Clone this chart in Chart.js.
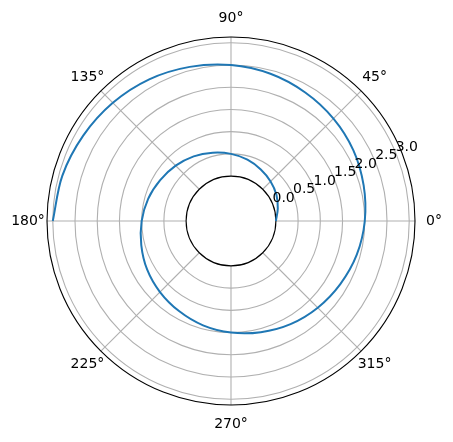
<!DOCTYPE html>
<html>
<head>
<meta charset="utf-8">
<script src="https://cdn.jsdelivr.net/npm/chart.js@4/dist/chart.umd.min.js"></script>
<style>
  html, body { margin: 0; padding: 0; background: #fff; }
  #wrap { width: 453px; height: 442px; position: relative; }
</style>
</head>
<body>
<div id="wrap"><canvas id="polarChart"></canvas></div>
<script>
// Spiral samples (angle in degrees, radius)
const thetaDeg = [0, 15, 30, 45, 60, 75, 90, 105, 120, 135, 150, 165, 180,
    195, 210, 225, 240, 255, 270, 285, 300, 315, 330, 345, 360,
    375, 390, 405, 420, 435, 450, 465, 480, 495, 510, 525, 540];
const radius = [0, 0.08, 0.17, 0.25, 0.33, 0.42, 0.5, 0.58, 0.67, 0.75, 0.83, 0.92, 1.0,
    1.08, 1.17, 1.25, 1.33, 1.42, 1.5, 1.58, 1.67, 1.75, 1.83, 1.92, 2.0,
    2.08, 2.17, 2.25, 2.33, 2.42, 2.5, 2.58, 2.67, 2.75, 2.83, 2.92, 3.0];

// Axis ticks
const radialTicks = [0.5, 1.0, 1.5, 2.0, 2.5, 3.0];
const radialTickLabels = ["0.0", "0.5", "1.0", "1.5", "2.0", "2.5", "3.0"];
const radialTickValues = [0.0, 0.5, 1.0, 1.5, 2.0, 2.5, 3.0];
const angleTicks = [0, 45, 90, 135, 180, 225, 270, 315];
const angleTickLabels = ["0°", "45°", "90°", "135°", "180°", "225°", "270°", "315°"];

const R_ORIGIN = 1.01;   // hole in the middle (r = 0 sits here)
const R_MAX = 3.13;      // outer spine
const LABEL_ANGLE = 22.5;
const OUTER = R_ORIGIN + R_MAX;

const toRad = d => d * Math.PI / 180;
const spiral = thetaDeg.map((t, i) => {
    const d = radius[i] + R_ORIGIN;
    return { x: d * Math.cos(toRad(t)), y: d * Math.sin(toRad(t)) };
});

const FONT = "14px 'DejaVu Sans', sans-serif";

// Draw the polar frame: rings, spokes, spines, labels
const polarFrame = {
    id: "polarFrame",
    beforeDatasetsDraw(chart) {
        const { ctx, scales: { x, y } } = chart;
        const cx = x.getPixelForValue(0);
        const cy = y.getPixelForValue(0);
        const px = v => x.getPixelForValue(v) - cx;

        ctx.save();
        // grid rings
        ctx.strokeStyle = "#b0b0b0";
        ctx.lineWidth = 1.1;
        radialTicks.forEach(r => {
            ctx.beginPath();
            ctx.arc(cx, cy, px(r + R_ORIGIN), 0, Math.PI * 2);
            ctx.stroke();
        });
        // spokes
        const inner = px(R_ORIGIN), outer = px(OUTER);
        angleTicks.forEach(a => {
            const c = Math.cos(toRad(a)), s = Math.sin(toRad(a));
            ctx.beginPath();
            ctx.moveTo(cx + inner * c, cy - inner * s);
            ctx.lineTo(cx + outer * c, cy - outer * s);
            ctx.stroke();
        });
        // spines
        ctx.strokeStyle = "#000";
        ctx.lineWidth = 1.1;
        ctx.beginPath();
        ctx.arc(cx, cy, inner, 0, Math.PI * 2);
        ctx.stroke();
        ctx.beginPath();
        ctx.arc(cx, cy, outer, 0, Math.PI * 2);
        ctx.stroke();
        ctx.restore();
    },
    afterDraw(chart) {
        const { ctx, scales: { x, y } } = chart;
        const cx = x.getPixelForValue(0);
        const cy = y.getPixelForValue(0);
        const px = v => x.getPixelForValue(v) - cx;

        ctx.save();
        ctx.fillStyle = "#000";
        ctx.font = FONT;
        // angle labels
        ctx.textAlign = "center";
        ctx.textBaseline = "middle";
        const lr = px(OUTER) + 19;
        angleTicks.forEach((a, i) => {
            ctx.fillText(angleTickLabels[i],
                cx + lr * Math.cos(toRad(a)),
                cy - lr * Math.sin(toRad(a)));
        });
        // radial labels
        ctx.textAlign = "left";
        ctx.textBaseline = "alphabetic";
        const c = Math.cos(toRad(LABEL_ANGLE)), s = Math.sin(toRad(LABEL_ANGLE));
        radialTickValues.forEach((r, i) => {
            const d = px(r + R_ORIGIN);
            ctx.fillText(radialTickLabels[i], cx + d * c, cy - d * s - 2);
        });
        ctx.restore();
    }
};

new Chart(document.getElementById("polarChart"), {
    type: "scatter",
    data: {
        datasets: [{
            data: spiral,
            showLine: true,
            borderColor: "#1f77b4",
            borderWidth: 2,
            pointRadius: 0,
            tension: 0.33,
            fill: false,
            clip: false
        }]
    },
    options: {
        responsive: true,
        maintainAspectRatio: false,
        animation: false,
        layout: { padding: { left: 47, right: 38, top: 37, bottom: 37 } },
        plugins: { legend: { display: false }, tooltip: { enabled: false } },
        scales: {
            x: { type: "linear", min: -OUTER, max: OUTER, display: false },
            y: { type: "linear", min: -OUTER, max: OUTER, display: false }
        }
    },
    plugins: [polarFrame]
});
</script>
</body>
</html>
